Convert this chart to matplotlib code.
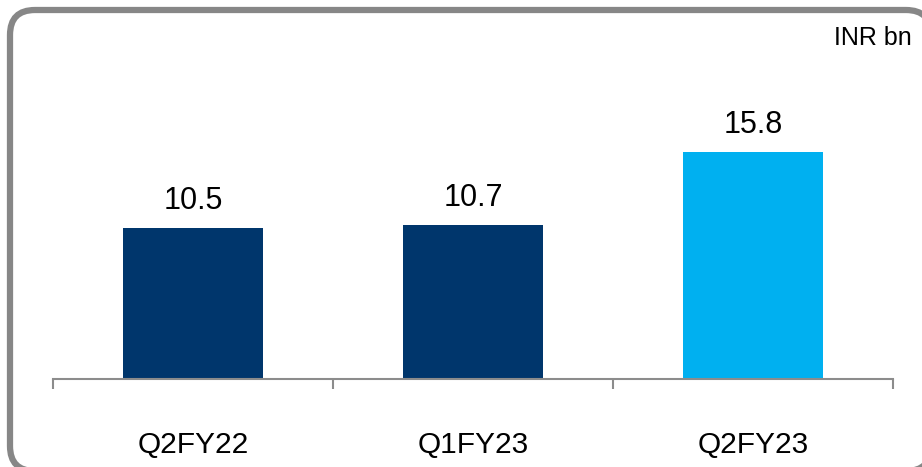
import matplotlib.pyplot as plt
from matplotlib.patches import FancyBboxPatch

plt.rcParams['font.family'] = ['Liberation Sans', 'DejaVu Sans']

# Chart data
quarters = ['Q2FY22', 'Q1FY23', 'Q2FY23']
values = [10.5, 10.7, 15.8]
colors = ['#00366C', '#00366C', '#00B0F0']

fig = plt.figure(figsize=(9.22, 4.67), dpi=100)

# Rounded border around the chart (inches), partly cut off on the right and bottom.
# filled white so Agg does not clip the curved corners oddly
border = FancyBboxPatch((0.10, -0.04), 9.21, 4.61,
                        boxstyle='round,pad=0,rounding_size=0.25',
                        transform=fig.dpi_scale_trans, facecolor='white',
                        edgecolor='#878787', linewidth=4.5, zorder=-1)
fig.patches.append(border)

ax = fig.add_axes([53 / 922, 88 / 467, 840 / 922, 339 / 467])
ax.patch.set_visible(False)
x = list(range(len(quarters)))
ax.bar(x, values, width=0.5, color=colors)
for xi, v in zip(x, values):
    ax.text(xi, v + 1.32, f'{v:.1f}', ha='center', va='baseline', fontsize=22)

ax.set_xlim(-0.5, 2.5)
ax.set_ylim(0, 23.6)
ax.set_yticks([])
for s in ['top', 'right', 'left']:
    ax.spines[s].set_visible(False)
ax.spines['bottom'].set_color('#8C8C8C')
ax.spines['bottom'].set_linewidth(1.5)

ax.set_xticks([-0.5, 0.5, 1.5, 2.5])
ax.set_xticklabels([])
ax.tick_params(axis='x', length=7.5, width=1.5, color='#8C8C8C')
for xi, q in zip(x, quarters):
    ax.text(xi, -0.218, q, ha='center', va='baseline', fontsize=21.5,
            transform=ax.get_xaxis_transform())

fig.text(912 / 922, 1 - 45 / 467, 'INR bn', ha='right', va='baseline', fontsize=18)

fig.savefig('out.png', dpi=100)
